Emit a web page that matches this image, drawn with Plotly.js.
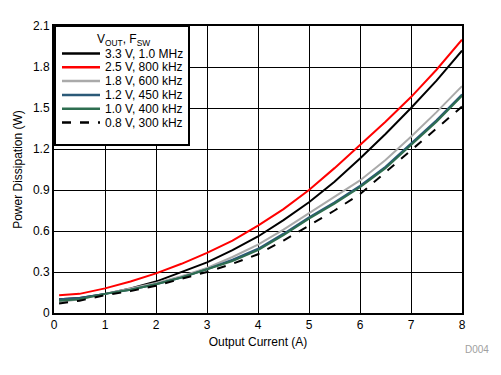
<!DOCTYPE html>
<html><head><meta charset="utf-8">
<script src="https://cdn.plot.ly/plotly-3.0.1.min.js"></script>
<style>html,body{margin:0;padding:0;background:#fff}#c{width:501px;height:375px}</style>
</head><body><div id="c"></div>
<script>
const current = [0.1,0.5,1,1.5,2,2.5,3,3.5,4,4.5,5,5.5,6,6.5,7,7.5,8];
const names = ["3.3 V, 1.0 MHz","2.5 V, 800 kHz","1.8 V, 600 kHz","1.2 V, 450 kHz","1.0 V, 400 kHz","0.8 V, 300 kHz"];
const p33 = [0.10,0.11,0.14,0.18,0.23,0.30,0.37,0.46,0.56,0.68,0.81,0.96,1.13,1.31,1.50,1.70,1.92];
const p25 = [0.13,0.14,0.18,0.23,0.29,0.36,0.44,0.53,0.64,0.76,0.90,1.06,1.23,1.40,1.58,1.78,2.00];
const p18 = [0.08,0.10,0.14,0.18,0.22,0.27,0.33,0.41,0.50,0.61,0.73,0.85,0.97,1.12,1.29,1.47,1.66];
const p12 = [0.10,0.11,0.14,0.17,0.21,0.26,0.32,0.39,0.47,0.58,0.70,0.81,0.93,1.07,1.24,1.41,1.60];
const p10 = [0.09,0.10,0.14,0.17,0.21,0.26,0.32,0.38,0.46,0.57,0.69,0.80,0.92,1.06,1.23,1.40,1.59];
const p08 = [0.07,0.09,0.13,0.16,0.20,0.25,0.30,0.36,0.43,0.53,0.64,0.75,0.87,1.03,1.19,1.35,1.51];
const series = [p33,p25,p18,p12,p10,p08];
const colors = ["#000000","#ff0000","#aaaaaa","#2b5a78","#2e6e50","#000000"];
const dashes = ["solid","solid","solid","solid","solid","dash"];
const legendTitle = "V<sub>OUT</sub>, F<sub>SW</sub>";

const traces = series.map((s,i)=>({x:current,y:s,name:names[i],mode:"lines",showlegend:false,
  line:{color:colors[i],width:2,dash:dashes[i]}}));
const fam = "Liberation Sans, Arial, sans-serif";
const font = {family:fam,size:12,color:"#000"};

// plot-area geometry (pixels) used to place the hand-drawn legend box
const W=501,H=375,ML=54,MR=39,MT=26,MB=62;
const PW=W-ML-MR, PH=H-MT-MB;
const px=(x)=>(x-ML)/PW, py=(y)=>(H-MB-y)/PH;

const shapes=[{type:"rect",xref:"paper",yref:"paper",x0:px(55),x1:px(189),y0:py(145),y1:py(26),
  line:{color:"#000",width:2},fillcolor:"#fff",layer:"above"}];
const annotations=[{text:legendTitle,xref:"paper",yref:"paper",x:px(123),y:py(40),xanchor:"center",yanchor:"middle",
  showarrow:false,font:font},
  {text:"D004",xref:"paper",yref:"paper",x:px(491),y:py(349),xanchor:"right",yanchor:"middle",
    showarrow:false,font:{family:fam,size:10,color:"#a0a0a0"}}];
names.forEach((n,i)=>{
  const yy=py(53.5+i*13.8);
  shapes.push({type:"line",xref:"paper",yref:"paper",x0:px(62),x1:px(100),y0:yy,y1:yy,
    line:{color:colors[i],width:2.5,dash:dashes[i]},layer:"above"});
  annotations.push({text:n,xref:"paper",yref:"paper",x:px(103),y:yy,xanchor:"left",yanchor:"middle",
    showarrow:false,font:font});
});

const layout = {
  width:W,height:H,
  margin:{l:ML,r:MR,t:MT,b:MB},
  paper_bgcolor:"#fff",plot_bgcolor:"#fff",
  font:font,
  showlegend:false,
  xaxis:{range:[0,8],dtick:1,showgrid:true,gridcolor:"#000",gridwidth:1,
    showline:true,linecolor:"#000",linewidth:2,mirror:true,zeroline:false,
    ticks:"",tickfont:font,title:{text:"Output Current (A)",font:font,standoff:6}},
  yaxis:{range:[0,2.1],dtick:0.3,showgrid:true,gridcolor:"#000",gridwidth:1,
    showline:true,linecolor:"#000",linewidth:2,mirror:true,zeroline:false,
    ticks:"",tickfont:font,tickformat:"~g",title:{text:"Power Dissipation (W)",font:font,standoff:8}},
  shapes:shapes,
  annotations:annotations
};
Plotly.newPlot("c",traces,layout,{displayModeBar:false,staticPlot:true});
</script></body></html>
